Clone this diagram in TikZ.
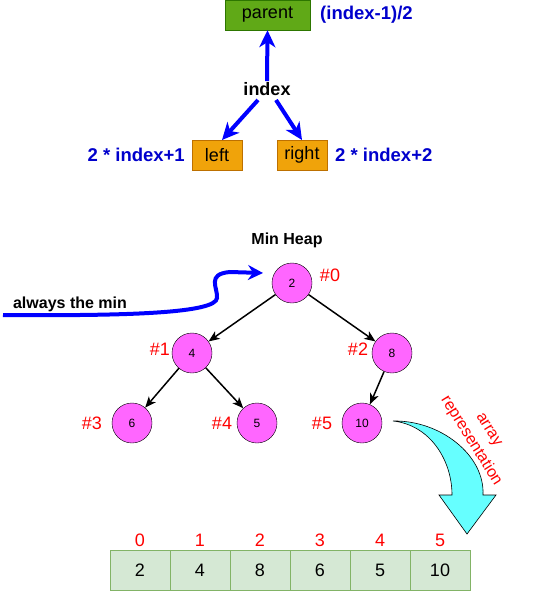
\documentclass[tikz,border=0pt]{standalone}
\usepackage{fontspec}
\setmainfont{Liberation Sans}
\usetikzlibrary{arrows.meta}
\definecolor{pgreen}{HTML}{60A917}
\definecolor{pgreenD}{HTML}{2D7600}
\definecolor{orng}{HTML}{F0A30A}
\definecolor{orngD}{HTML}{BD7000}
\definecolor{txtblue}{HTML}{0000CC}
\definecolor{mag}{HTML}{FF66FF}
\definecolor{cyanf}{HTML}{66FFFF}
\definecolor{cellf}{HTML}{D5E8D4}
\definecolor{celld}{HTML}{82B366}
\begin{document}
\begin{tikzpicture}[x=1pt,y=-1pt,
  box/.style={draw, minimum width=#1, minimum height=30pt, inner sep=0pt, font=\fontsize{18}{20}\selectfont},
  bluelbl/.style={text=txtblue, font=\bfseries\fontsize{18.5}{20}\selectfont, inner sep=0pt},
  bluearrow/.style={draw=blue, line width=4pt, -{Stealth[length=17pt,width=16pt,inset=5pt]}},
  heapnode/.style={circle, draw, fill=mag, minimum size=40pt, inner sep=0pt, font=\fontsize{12}{14}\selectfont},
  hashlbl/.style={text=red, font=\fontsize{18}{20}\selectfont, inner sep=0pt},
  edge/.style={draw, line width=1.5pt, -{Stealth[length=11pt,width=9pt,inset=3pt]}},
  cell/.style={draw=celld, fill=cellf, minimum width=60pt, minimum height=40pt, inner sep=0pt, font=\fontsize{18}{20}\selectfont},
  idx/.style={text=red, font=\fontsize{18}{20}\selectfont, inner sep=0pt}
]
\useasboundingbox (0,0) rectangle (535,591);

% top part
\node[box=85pt, fill=pgreen, draw=pgreenD] (parent) at (267.5,15) {parent};
\node[bluelbl, anchor=west] (pformula) at (320,15) {(index-1)/2};
\node[inner sep=1pt, font=\bfseries\fontsize{18}{20}\selectfont] (index) at (267,89) {index};
\node[box=50pt, fill=orng, draw=orngD] (left) at (217,155) {left};
\node[box=50pt, fill=orng, draw=orngD] (right) at (302,155) {right};
\node[bluelbl, anchor=east] (lformula) at (185,155) {2 * index+1};
\node[bluelbl, anchor=west] (rformula) at (335,155) {2 * index+2};

\coordinate (ils) at (258,100);
\coordinate (irs) at (276,100);
\coordinate (ile) at (222,140);
\coordinate (ire) at (302,140);
\draw[bluearrow] (index.north) -- (parent.south);
\draw[bluearrow] (ils) -- (ile);
\draw[bluearrow] (irs) -- (ire);

% heap
\node[font=\bfseries\fontsize{16}{18}\selectfont, inner sep=0pt] (title) at (287,240) {Min Heap};
\node[heapnode] (n0) at (292,283) {2};
\node[heapnode] (n1) at (192,353) {4};
\node[heapnode] (n2) at (392,353) {8};
\node[heapnode] (n3) at (132,423) {6};
\node[heapnode] (n4) at (257,423) {5};
\node[heapnode] (n5) at (362,423) {10};

\node[hashlbl] (h0) at (330,275) {\#0};
\node[hashlbl] (h1) at (160,349) {\#1};
\node[hashlbl] (h2) at (358,349) {\#2};
\node[hashlbl] (h3) at (92,423) {\#3};
\node[hashlbl] (h4) at (222,423) {\#4};
\node[hashlbl] (h5) at (322,423) {\#5};

\draw[edge] (n0) -- (n1);
\draw[edge] (n0) -- (n2);
\draw[edge] (n1) -- (n3);
\draw[edge] (n1) -- (n4);
\draw[edge] (n2) -- (n5);

% always the min
\node[font=\bfseries\fontsize{16}{18}\selectfont, inner sep=0pt] (always) at (70,304) {always the min};
\coordinate (minstart) at (3,315);
\coordinate (minend) at (263,273);
\draw[draw=blue, line width=4pt, -{Stealth[length=15pt,width=15pt,inset=5pt]}]
  (minstart) .. controls (130,316) and (216,313) .. (217,298)
  .. controls (218,288) and (206,274) .. (230,272) -- (minend);

% cyan block arrow
\draw[fill=cyanf, line width=0.6pt] (393,421) .. controls (440,420) and (485,455) .. (483,495)
  -- (496,495) -- (467,534) -- (439,495) -- (452,495)
  .. controls (452,460) and (430,425) .. (393,421) -- cycle;
\node[text=red, font=\fontsize{16}{21}\selectfont, align=center, rotate=-58, inner sep=0pt] (arrrep) at (479,436) {array\\representation};

% array
\foreach \v/\i in {2/0,4/1,8/2,6/3,5/4,10/5}{
  \node[cell] (c\i) at (140+60*\i,570) {\v};
  \node[idx] (i\i) at (140+60*\i,540) {\i};
}
\end{tikzpicture}
\end{document}
